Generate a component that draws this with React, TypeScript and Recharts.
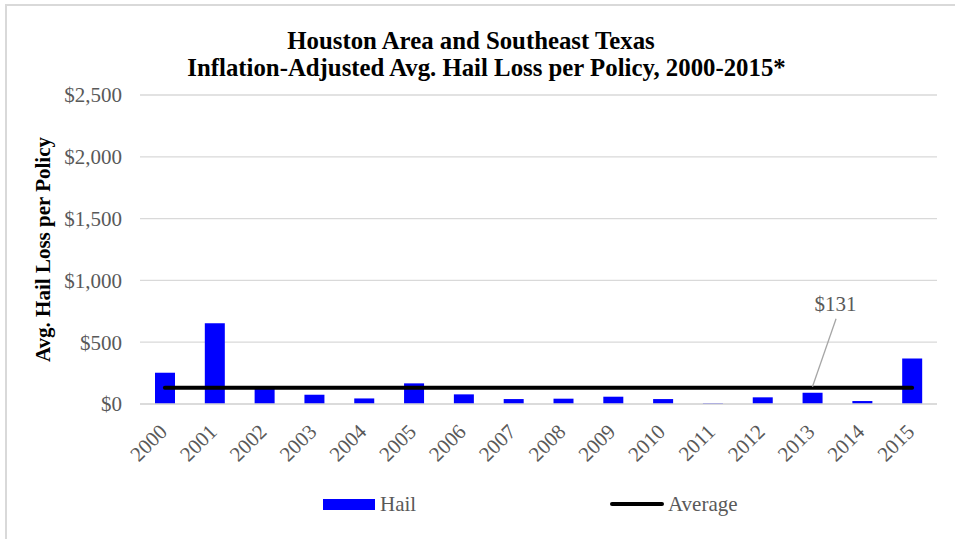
import React from 'react';
import {
  ComposedChart,
  Bar,
  Line,
  XAxis,
  YAxis,
  CartesianGrid,
  Legend,
  LabelList,
} from 'recharts';

const years = ['2000', '2001', '2002', '2003', '2004', '2005', '2006', '2007', '2008', '2009', '2010', '2011', '2012', '2013', '2014', '2015'];
const hailValues = [253, 653, 130, 75, 45, 167, 78, 40, 43, 59, 40, 6, 54, 91, 24, 368];
const averageValues = [131, 131, 131, 131, 131, 131, 131, 131, 131, 131, 131, 131, 131, 131, 131, 131];
const yTicks = [0, 500, 1000, 1500, 2000, 2500];
const titleLines = ['Houston Area and Southeast Texas', 'Inflation-Adjusted Avg. Hail Loss per Policy, 2000-2015*'];
const yAxisTitle = 'Avg. Hail Loss per Policy';
const annotatedIndex = 13;
const annotationText = '$131';

const data = years.map((year, i) => ({ year, hail: hailValues[i], avg: averageValues[i] }));

const FONT = '"Liberation Serif", "Times New Roman", serif';
const GREY = '#595959';

const fmtDollar = (v: number) => '$' + String(v).replace(/\B(?=(\d{3})+(?!\d))/g, ',');

const XTick = (props: any) => {
  const { x, y, payload } = props;
  const ax = x + 3.5;
  const ay = y + 21;
  return (
    <text
      x={ax}
      y={ay}
      transform={`rotate(-45, ${ax}, ${ay})`}
      textAnchor="end"
      fill={GREY}
      fontSize={21}
      fontFamily={FONT}
    >
      {payload.value}
    </text>
  );
};

const AvgLabel = (props: any) => {
  const { x, y, index } = props;
  if (index !== annotatedIndex) return null;
  return (
    <g>
      <line x1={x} y1={y - 1} x2={x + 23.6} y2={y - 69} stroke="#a6a6a6" strokeWidth={1.3} />
      <text x={x + 23} y={y - 77} textAnchor="middle" fill={GREY} fontSize={21} fontFamily={FONT}>
        {annotationText}
      </text>
    </g>
  );
};

const LegendContent = () => (
  <div style={{ position: 'relative', width: 955, height: 30, fontFamily: FONT, fontSize: 21, color: GREY }}>
    <div style={{ position: 'absolute', left: 323, top: 10, width: 52, height: 11, background: '#0000ff' }} />
    <span style={{ position: 'absolute', left: 380, top: 0, lineHeight: '30px', whiteSpace: 'nowrap' }}>Hail</span>
    <div style={{ position: 'absolute', left: 610, top: 13, width: 54, height: 4, background: '#000', borderRadius: 2 }} />
    <span style={{ position: 'absolute', left: 668, top: 0, lineHeight: '30px', whiteSpace: 'nowrap' }}>Average</span>
  </div>
);

export default function App() {
  return (
    <div style={{ position: 'absolute', left: 0, top: 0, width: 955, height: 539, overflow: 'hidden', background: '#fff' }}>
      <div
        style={{
          position: 'absolute',
          left: 5,
          top: 4,
          width: 1000,
          height: 1000,
          border: '2px solid #d9d9d9',
        }}
      />
      <div
        style={{
          position: 'absolute',
          left: 471,
          top: 28.5,
          transform: 'translateX(-50%)',
          whiteSpace: 'nowrap',
          fontFamily: FONT,
          fontWeight: 'bold',
          fontSize: 24.8,
          lineHeight: 1,
          color: '#000',
        }}
      >
        {titleLines[0]}
      </div>
      <div
        style={{
          position: 'absolute',
          left: 486.5,
          top: 55.5,
          transform: 'translateX(-50%)',
          whiteSpace: 'nowrap',
          fontFamily: FONT,
          fontWeight: 'bold',
          fontSize: 24.8,
          lineHeight: 1,
          color: '#000',
        }}
      >
        {titleLines[1]}
      </div>
      <div style={{ position: 'absolute', left: 0, top: 0 }}>
        <ComposedChart
          width={955}
          height={539}
          data={data}
          margin={{ top: 95, right: 18, bottom: 20, left: 0 }}
        >
          <CartesianGrid vertical={false} stroke="#d9d9d9" strokeWidth={1.3} />
          <XAxis
            dataKey="year"
            interval={0}
            height={85}
            axisLine={{ stroke: '#d9d9d9', strokeWidth: 1.3 }}
            tickLine={false}
            tick={<XTick />}
          />
          <YAxis
            width={140}
            domain={[0, 2500]}
            ticks={yTicks}
            tickFormatter={fmtDollar}
            axisLine={false}
            tickLine={false}
            tickMargin={12}
            tick={{ fill: GREY, fontSize: 21, fontFamily: FONT }}
            label={{
              value: yAxisTitle,
              angle: -90,
              position: 'center',
              dx: -27,
              style: { fontFamily: FONT, fontSize: 21, fontWeight: 'bold', fill: '#000', textAnchor: 'middle' },
            }}
          />
          <Bar dataKey="hail" name="Hail" fill="#0000ff" barSize={20} isAnimationActive={false} />
          <Line
            type="linear"
            dataKey="avg"
            name="Average"
            stroke="#000"
            strokeWidth={4}
            strokeLinecap="round"
            dot={false}
            activeDot={false}
            isAnimationActive={false}
          >
            <LabelList dataKey="avg" content={<AvgLabel />} />
          </Line>
          <Legend
            verticalAlign="bottom"
            height={30}
            wrapperStyle={{ left: 0, width: 955, bottom: 20, height: 30 }}
            content={<LegendContent />}
          />
        </ComposedChart>
      </div>
    </div>
  );
}
